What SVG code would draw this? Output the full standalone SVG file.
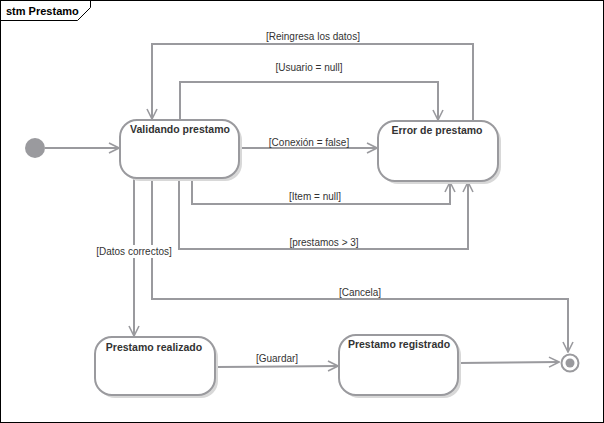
<svg xmlns="http://www.w3.org/2000/svg" width="604" height="423" viewBox="0 0 604 423">
  <defs>
    <marker id="open" viewBox="0 0 12 12" refX="11" refY="6" markerWidth="12" markerHeight="12" markerUnits="userSpaceOnUse" orient="auto">
      <path d="M1,1 L11,6 L1,11" fill="none" stroke="#9a9a9e" stroke-width="1.6"/>
    </marker>
  </defs>
  <style>
    .frame { fill: #ffffff; stroke: #000000; stroke-width: 1; }
    .title { font-family: "Liberation Sans", Arial, sans-serif; font-size: 11px; font-weight: bold; fill: #000000; }
    .state { fill: #ffffff; stroke: #9a9a9e; stroke-width: 2; }
    .shadow { fill: #d8d8d8; stroke: none; }
    .name { font-family: "Liberation Sans", Arial, sans-serif; font-size: 10.5px; font-weight: bold; fill: #333333; text-anchor: middle; }
    .edge { fill: none; stroke: #9a9a9e; stroke-width: 2; }
    .guard { font-family: "Liberation Sans", Arial, sans-serif; font-size: 10px; fill: #333333; text-anchor: middle; }
    .bg { fill: #ffffff; }
  </style>

  <!-- diagram frame -->
  <rect class="frame" x="0.5" y="0.5" width="603" height="422"/>
  <path d="M0.5,20.5 L77.5,20.5 L90.5,7.5 L90.5,0.5" fill="none" stroke="#000000" stroke-width="1"/>
  <text class="title" x="6" y="15">stm Prestamo</text>

  <!-- transitions -->
  <g id="connectors">
    <path class="edge" d="M45,148 L119,148" marker-end="url(#open)"/>
    <path class="edge" d="M473,121 L473,44 L152,44 L152,119" marker-end="url(#open)"/>
    <path class="edge" d="M180,120 L180,82 L438,82 L438,120" marker-end="url(#open)"/>
    <path class="edge" d="M239,148 L377,148" marker-end="url(#open)"/>
    <path class="edge" d="M192,178 L192,204 L450,204 L450,182" marker-end="url(#open)"/>
    <path class="edge" d="M179,178 L179,249 L468,249 L468,182" marker-end="url(#open)"/>
    <path class="edge" d="M134,178 L134,336" marker-end="url(#open)"/>
    <path class="edge" d="M152,178 L152,299 L568,299 L568,352" marker-end="url(#open)"/>
    <path class="edge" d="M216,367 L338,366" marker-end="url(#open)"/>
    <path class="edge" d="M459,363 L559,362" marker-end="url(#open)"/>

    <text class="guard" x="313" y="40">[Reingresa los datos]</text>
    <text class="guard" x="309" y="71">[Usuario = null]</text>
    <text class="guard" x="309" y="146">[Conexión = false]</text>
    <text class="guard" x="315" y="200">[Item = null]</text>
    <text class="guard" x="324" y="246">[prestamos &gt; 3]</text>
    <rect class="bg" x="95" y="245" width="78" height="13"/>
    <text class="guard" x="134" y="255">[Datos correctos]</text>
    <text class="guard" x="360" y="296">[Cancela]</text>
    <text class="guard" x="277" y="362">[Guardar]</text>
  </g>

  <!-- initial pseudostate -->
  <g id="initial">
    <circle cx="35" cy="148" r="10" fill="#9a9a9e"/>
  </g>

  <g id="validando">
    <rect class="shadow" x="123" y="123" width="119" height="58" rx="17"/>
    <rect class="state" x="120" y="120" width="119" height="58" rx="17"/>
    <text class="name" x="180" y="133">Validando prestamo</text>
  </g>

  <g id="error">
    <rect class="shadow" x="381" y="124" width="120" height="60" rx="17"/>
    <rect class="state" x="378" y="121" width="120" height="60" rx="17"/>
    <text class="name" x="437" y="134">Error de prestamo</text>
  </g>

  <g id="realizado">
    <rect class="shadow" x="98" y="340" width="120" height="58" rx="17"/>
    <rect class="state" x="95" y="337" width="120" height="58" rx="17"/>
    <text class="name" x="154" y="351">Prestamo realizado</text>
  </g>

  <g id="registrado">
    <rect class="shadow" x="342" y="338" width="119" height="60" rx="17"/>
    <rect class="state" x="339" y="335" width="119" height="60" rx="17"/>
    <text class="name" x="399" y="348">Prestamo registrado</text>
  </g>

  <!-- final state -->
  <g id="final">
    <circle cx="570" cy="363" r="8.5" fill="#ffffff" stroke="#9a9a9e" stroke-width="2"/>
    <circle cx="570" cy="363" r="4.5" fill="#9a9a9e"/>
  </g>
</svg>
